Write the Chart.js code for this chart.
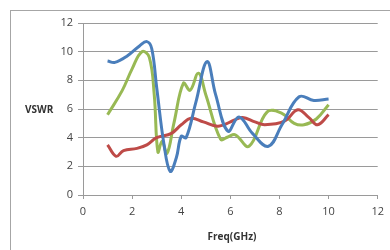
<!DOCTYPE html>
<html>
<head>
<meta charset="utf-8">
<script src="https://cdn.jsdelivr.net/npm/chart.js@4"></script>
<style>
  html, body { margin: 0; padding: 0; background: #fff; overflow: hidden; }
  #wrap { position: relative; width: 390px; height: 250px; }
  #frame { position: absolute; left: 10px; top: 10px; width: 420px; height: 280px; border: 1px solid #a6a6a6; box-sizing: border-box; }
  canvas { position: absolute; left: 0; top: 0; }
</style>
</head>
<body>
<div id="wrap">
  <div id="frame"></div>
  <canvas id="vswrChart" width="390" height="250"></canvas>
</div>
<script>
// series (freq in GHz, VSWR)
const blueX  = [1, 1.3, 1.8, 2.3, 2.6, 2.8, 3.0, 3.3, 3.55, 3.8, 4.0, 4.2, 4.6, 5.05, 5.4, 5.9, 6.35, 6.9, 7.55, 8.1, 8.8, 9.4, 10];
const blueY  = [9.35, 9.25, 9.7, 10.4, 10.7, 10.2, 7.5, 3.5, 1.65, 2.6, 4.1, 4.0, 6.5, 9.3, 7.0, 4.45, 5.45, 4.3, 3.4, 4.9, 6.85, 6.6, 6.7];
const greenX = [1, 1.6, 2.0, 2.4, 2.7, 2.9, 3.05, 3.22, 3.42, 3.7, 4.09, 4.36, 4.7, 5.0, 5.6, 5.9, 6.2, 6.76, 7.5, 8.1, 8.6, 9.0, 9.5, 10];
const greenY = [5.6, 7.3, 8.8, 10.0, 9.6, 7.0, 3.0, 3.75, 2.9, 5.0, 7.8, 7.3, 8.5, 7.0, 3.9, 4.05, 4.2, 3.4, 5.8, 5.7, 5.0, 4.9, 5.3, 6.3];
const redX   = [1, 1.35, 1.65, 2.2, 2.6, 3.0, 3.6, 4.0, 4.4, 4.9, 5.5, 6.2, 6.5, 7.0, 7.4, 8.2, 8.75, 9.2, 9.55, 10];
const redY   = [3.5, 2.7, 3.1, 3.25, 3.5, 4.0, 4.3, 4.9, 5.35, 5.1, 4.8, 5.25, 5.4, 5.1, 4.9, 5.15, 5.95, 5.4, 4.9, 5.6];

const xTitle = "Freq(GHz)";
const yTitle = "VSWR";

const FONT = "'Open Sans', 'Liberation Sans', sans-serif";
const pts = (xs, ys) => xs.map((x, i) => ({ x, y: ys[i] }));

const line = (data, color) => ({
  data, borderColor: color, borderWidth: 3, pointRadius: 0,
  showLine: true, tension: 0.4, fill: false
});

// axis titles drawn horizontally, Excel style
const titles = {
  id: "titles",
  afterDraw(chart) {
    const c = chart.ctx;
    c.save();
    c.fillStyle = "#333";
    c.font = "bold 10px " + FONT;
    c.textBaseline = "middle";
    c.textAlign = "left";
    c.fillText(yTitle, 25, 110);
    c.textAlign = "center";
    c.fillText(xTitle, 232, 237);
    c.restore();
  }
};

new Chart(document.getElementById("vswrChart"), {
  type: "scatter",
  data: { datasets: [
    line(pts(blueX, blueY), "#4a7ebb"),
    line(pts(redX, redY), "#be4b48"),
    line(pts(greenX, greenY), "#98b954")
  ] },
  options: {
    responsive: false, animation: false,
    layout: { padding: { top: 23, right: 7, left: 0, bottom: 0 } },
    plugins: { legend: { display: false }, tooltip: { enabled: false } },
    scales: {
      x: {
        min: 0, max: 12,
        ticks: { stepSize: 2, color: "#444", font: { family: FONT, size: 11 }, padding: 6 },
        grid: { drawOnChartArea: false, drawTicks: true, tickLength: 4, color: "#9a9a9a" },
        border: { display: true, color: "#9a9a9a" },
        afterFit: s => { s.height = 55; }
      },
      y: {
        min: 0, max: 12,
        ticks: { stepSize: 2, color: "#444", font: { family: FONT, size: 11 }, padding: 5 },
        grid: { color: "#9a9a9a", tickLength: 5 },
        border: { display: true, color: "#9a9a9a" },
        afterFit: s => { s.width = 83; }
      }
    }
  },
  plugins: [titles]
});
</script>
</body>
</html>
